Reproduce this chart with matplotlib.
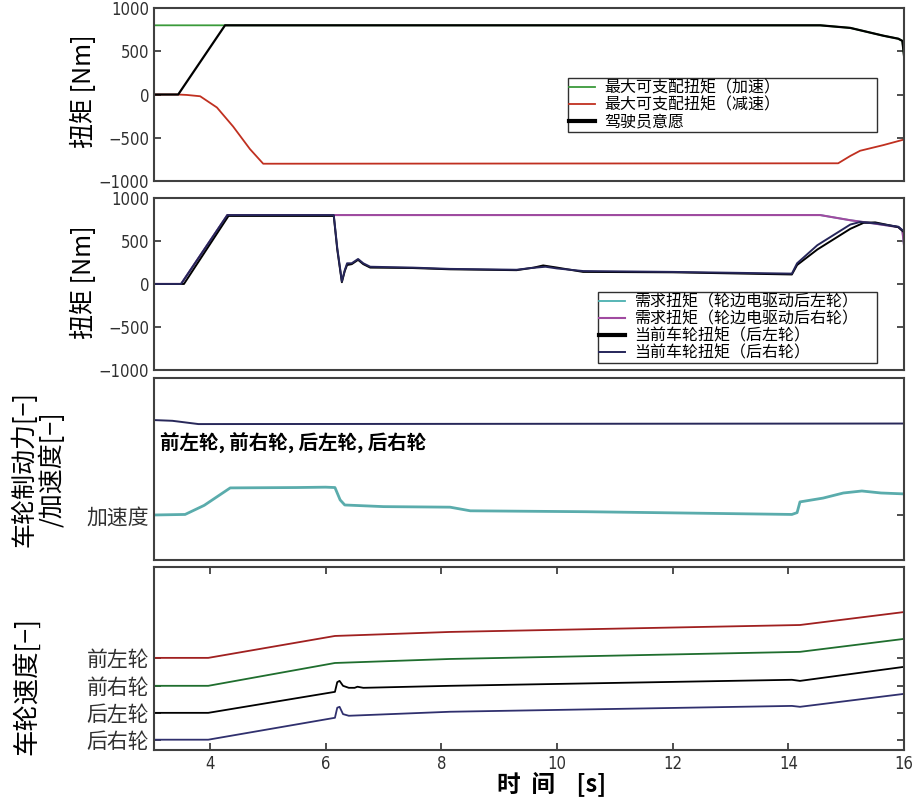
import matplotlib
matplotlib.use('Agg')
import matplotlib.pyplot as plt

plt.rcParams['font.family'] = ['Noto Sans CJK SC', 'DejaVu Sans']

# ---- panel 1: torque limits and driver request ----
t_acc = [3.03, 14.55, 15.07, 15.64, 15.9, 15.97, 16.0]
acc_max = [800, 800, 770, 680, 645, 620, 440]
t_dec = [3.03, 3.45, 3.6, 3.83, 4.12, 4.4, 4.69, 4.92, 14.86, 15.07, 15.24, 15.64, 16.0]
dec_max = [0, 0, -5, -20, -150, -370, -630, -800, -795, -710, -650, -585, -520]
t_drv = [3.03, 3.45, 4.26, 14.55, 15.07, 15.64, 15.9, 15.97, 16.0]
driver = [0, 0, 800, 800, 770, 680, 645, 620, 440]

# ---- panel 2: demanded vs actual rear wheel torque ----
t_dem = [3.03, 3.5, 4.3, 14.55, 15.07, 15.5, 15.9, 15.97, 16.0]
dem_rl = [0, 0, 800, 800, 740, 700, 660, 620, 440]
dem_rr = [0, 0, 800, 800, 740, 700, 660, 620, 440]
t_rl = [3.03, 3.55, 4.32, 6.14, 6.2, 6.28, 6.33, 6.37, 6.45, 6.56, 6.65, 6.77, 7.5, 8.15,
        9.3, 9.6, 9.76, 10.0, 10.45, 12.0, 14.06, 14.15, 14.5, 15.07, 15.3, 15.5, 15.9, 16.0]
act_rl = [0, 0, 790, 790, 400, 20, 150, 220, 230, 280, 230, 190, 185, 170,
          160, 190, 215, 190, 140, 135, 110, 220, 400, 640, 710, 715, 660, 600]
t_rr = [3.03, 3.5, 4.3, 6.14, 6.2, 6.28, 6.33, 6.37, 6.45, 6.56, 6.65, 6.77, 7.5, 8.15,
        9.3, 9.55, 9.8, 10.0, 10.45, 12.0, 14.06, 14.15, 14.5, 15.07, 15.24, 15.5, 15.9, 16.0]
act_rr = [0, 0, 800, 800, 420, 30, 160, 240, 240, 290, 240, 200, 190, 175,
          165, 185, 200, 180, 150, 140, 120, 240, 450, 690, 720, 705, 665, 610]

# ---- panel 3: brake force / acceleration (normalised) ----
t_brk = [3.03, 3.35, 3.8, 16.0]
brake = [0.769, 0.765, 0.747, 0.750]
t_acl = [3.03, 3.57, 3.9, 4.35, 5.5, 6.0, 6.16, 6.25, 6.33, 7.0, 8.15, 8.5, 10.5,
         14.06, 14.15, 14.2, 14.6, 14.95, 15.27, 15.6, 16.0]
accel = [0.247, 0.25, 0.30, 0.396, 0.398, 0.40, 0.398, 0.33, 0.302, 0.293, 0.29, 0.27, 0.265,
         0.25, 0.26, 0.319, 0.34, 0.368, 0.379, 0.368, 0.363]

# ---- panel 4: wheel speeds (offset) ----
t_fl = [3.03, 3.97, 6.16, 8.15, 14.2, 16.0]
v_fl = [5.03, 5.03, 6.23, 6.45, 6.83, 7.54]
t_fr = [3.03, 3.97, 6.16, 8.15, 14.2, 16.0]
v_fr = [3.50, 3.50, 4.75, 4.97, 5.36, 6.07]
t_rl4 = [3.03, 3.97, 6.16, 6.2, 6.24, 6.3, 6.4, 6.5, 6.55, 6.65, 8.15, 14.06, 14.2, 16.0]
v_rl = [2.02, 2.02, 3.17, 3.7, 3.77, 3.5, 3.39, 3.39, 3.45, 3.39, 3.5, 3.83, 3.77, 4.54]
t_rr4 = [3.03, 3.97, 6.16, 6.2, 6.24, 6.3, 6.4, 8.15, 14.06, 14.2, 16.0]
v_rr = [0.55, 0.55, 1.75, 2.3, 2.35, 1.95, 1.86, 2.08, 2.40, 2.35, 3.06]
wheel_names = ['前左轮', '前右轮', '后左轮', '后右轮']

xticks = [4, 6, 8, 10, 12, 14, 16]
torque_ticks = [-1000, -500, 0, 500, 1000]

fig = plt.figure(figsize=(9.16, 8.01), dpi=100)
L, W = 0.168, 0.819
ax1 = fig.add_axes([L, 0.774, W, 0.216])
ax2 = fig.add_axes([L, 0.538, W, 0.215])
ax3 = fig.add_axes([L, 0.301, W, 0.227])
ax4 = fig.add_axes([L, 0.064, W, 0.228])

num_font = dict(family='DejaVu Sans', stretch='condensed', size=12)
for ax in (ax1, ax2, ax3, ax4):
    ax.set_xlim(3.03, 16)
    for s in ax.spines.values():
        s.set_color('#404040')
        s.set_linewidth(1.5)
    ax.tick_params(direction='in', right=True, length=5, width=1.2, colors='#303030')
    ax.set_xticks(xticks)

for ax in (ax1, ax2, ax3):
    ax.tick_params(axis='x', bottom=False, labelbottom=False)

leg_kw = dict(loc='upper left', mode='expand', fontsize=11.5, labelspacing=0.0,
              borderpad=0.1, handlelength=1.6, handletextpad=0.6, fancybox=False,
              framealpha=1, edgecolor='#303030')

# panel 1
ax1.plot(t_acc, acc_max, color='#3a9a3a', lw=1.3, label='最大可支配扭矩（加速）')
ax1.plot(t_dec, dec_max, color='#c03020', lw=1.3, label='最大可支配扭矩（减速）')
ax1.plot(t_drv, driver, color='black', lw=1.6, label='驾驶员意愿')
ax1.set_ylim(-1000, 1000)
ax1.set_yticks(torque_ticks)
for lab in ax1.get_yticklabels():
    lab.set(**num_font)
ax1.set_ylabel('扭矩 [Nm]', fontsize=18)
ax1.yaxis.set_label_coords(-0.076, 0.52)
leg1 = ax1.legend(bbox_to_anchor=(0.541, 0.35, 0.434, 0.29), **leg_kw)
leg1.legend_handles[2].set_linewidth(3)

# panel 2
ax2.plot(t_dem, dem_rl, color='#4ab0b0', lw=1.3, label='需求扭矩（轮边电驱动后左轮）')
ax2.plot(t_dem, dem_rr, color='#a04aa0', lw=1.5, label='需求扭矩（轮边电驱动后右轮）')
ax2.plot(t_rl, act_rl, color='black', lw=1.4, label='当前车轮扭矩（后左轮）')
ax2.plot(t_rr, act_rr, color='#26265a', lw=1.4, label='当前车轮扭矩（后右轮）')
ax2.set_ylim(-1000, 1000)
ax2.set_yticks(torque_ticks)
for lab in ax2.get_yticklabels():
    lab.set(**num_font)
ax2.set_ylabel('扭矩 [Nm]', fontsize=18)
ax2.yaxis.set_label_coords(-0.076, 0.51)
leg2 = ax2.legend(bbox_to_anchor=(0.581, 0.09, 0.394, 0.41), **leg_kw)
leg2.legend_handles[2].set_linewidth(3)

# panel 3
ax3.plot(t_brk, brake, color='#28285a', lw=1.4)
ax3.plot(t_acl, accel, color='#5aacac', lw=2.0)
ax3.set_ylim(0, 1)
ax3.set_yticks([accel[0]])
ax3.set_yticklabels(['加速度'], fontsize=15)
ax3.text(3.13, 0.643, '前左轮, 前右轮, 后左轮, 后右轮', fontsize=14, fontweight='bold',
         va='center', ha='left')
ax3.set_ylabel('车轮制动力[−]\n/加速度[−]', fontsize=18, linespacing=1.1)
ax3.yaxis.set_label_coords(-0.117, 0.5)

# panel 4
ax4.plot(t_fl, v_fl, color='#a02020', lw=1.3)
ax4.plot(t_fr, v_fr, color='#1f6e2e', lw=1.3)
ax4.plot(t_rl4, v_rl, color='black', lw=1.3)
ax4.plot(t_rr4, v_rr, color='#30306e', lw=1.3)
ax4.set_ylim(0, 10)
ax4.set_yticks([v_fl[0], v_fr[0], v_rl[0], v_rr[0]])
ax4.set_yticklabels(wheel_names, fontsize=15)
ax4.tick_params(axis='x', top=True)
ax4.set_xticklabels([str(x) for x in xticks])
for lab in ax4.get_xticklabels():
    lab.set(**num_font)
ax4.set_ylabel('车轮速度[−]', fontsize=19)
ax4.yaxis.set_label_coords(-0.152, 0.35)
ax4.set_xlabel('时  间    [s]', fontsize=17, fontweight='bold')
ax4.xaxis.set_label_coords(0.53, -0.12)

fig.savefig('out.png', dpi=100)
